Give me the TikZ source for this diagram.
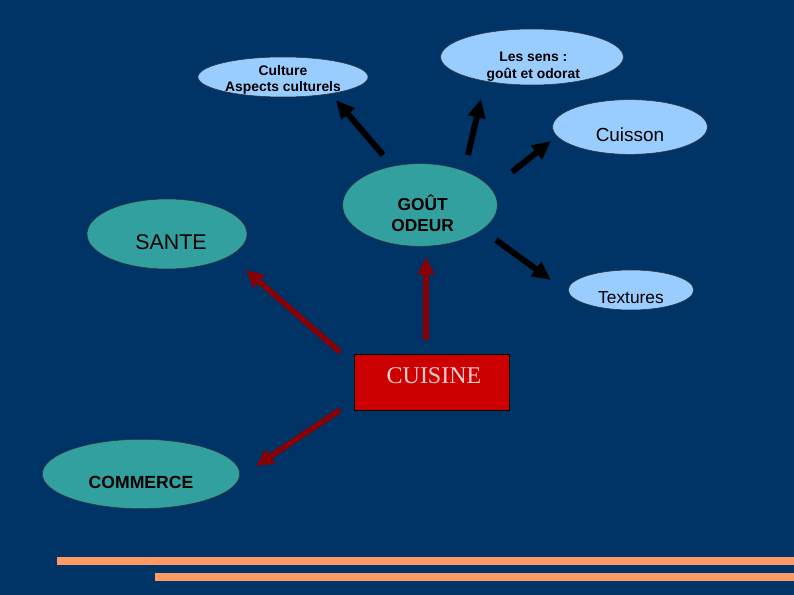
\documentclass[tikz,border=0pt]{standalone}
\usepackage{fontspec}
\setmainfont{Liberation Serif}
\setsansfont{Liberation Sans}
\usetikzlibrary{arrows.meta,shapes.geometric}
\definecolor{navy}{RGB}{0,51,102}
\definecolor{skyblue}{RGB}{153,204,255}
\definecolor{seateal}{RGB}{51,160,160}
\definecolor{boxred}{RGB}{204,0,0}
\definecolor{darkred}{RGB}{135,0,5}
\definecolor{barorange}{RGB}{255,153,102}
\definecolor{pinktext}{RGB}{255,204,204}

\begin{document}
\begin{tikzpicture}[x=0.75pt,y=-0.75pt,font=\sffamily,
  oval/.style={ellipse,draw=black!80,line width=0.4pt,inner sep=0pt},
  sky/.style={oval,fill=skyblue},
  sea/.style={oval,fill=seateal},
  txt/.style={yshift=-6pt,align=center},
  blk/.style={-{Triangle[length=14pt,width=12.5pt]},line width=4.5pt,black},
  rd/.style={-{Triangle[length=13pt,width=12pt]},line width=4.2pt,darkred}]
\fill[navy] (0,0) rectangle (794,595);
\foreach \x/\y in {57/557,155/573}{\fill[barorange] (\x,\y) rectangle (794,\y+8.5);}

\node[sky,minimum width=127.5pt,minimum height=30pt,
  label={[yshift=-2.2pt,align=center,font=\sffamily\bfseries\fontsize{10.4}{12}\selectfont]center:Culture\\Aspects culturels}] (culture) at (283,77) {};
\node[sky,minimum width=137pt,minimum height=42pt,
  label={[txt,yshift=-1.5pt,xshift=1pt,font=\sffamily\bfseries\fontsize{10.4}{12.75}\selectfont]center:Les sens :\\goût et odorat}] (sens) at (532,57) {};
\node[sky,minimum width=116pt,minimum height=41pt,
  label={[txt,font=\sffamily\fontsize{14.2}{16}\selectfont]center:Cuisson}] (cuisson) at (630,127) {};
\node[sky,minimum width=94pt,minimum height=30pt,
  label={[txt,font=\sffamily\fontsize{13}{15}\selectfont]center:Textures}] (textures) at (631,290) {};
\node[sea,minimum width=116pt,minimum height=62pt,
  label={[txt,xshift=2pt,font=\sffamily\bfseries\fontsize{13}{15.75}\selectfont]center:GOÛT\\ODEUR}] (gout) at (420,205) {};
\node[sea,minimum width=120pt,minimum height=52.5pt,
  label={[txt,xshift=3pt,font=\sffamily\fontsize{16}{18}\selectfont]center:SANTE}] (sante) at (167,234) {};
\node[sea,minimum width=148pt,minimum height=52pt,
  label={[txt,font=\sffamily\bfseries\fontsize{13.2}{15}\selectfont]center:COMMERCE}] (commerce) at (141,474) {};
\node[rectangle,draw=black,line width=0.6pt,fill=boxred,minimum width=116pt,minimum height=42pt,inner sep=0pt,
  label={[yshift=4.5pt,xshift=1.5pt,text=pinktext,font=\rmfamily\fontsize{18}{20}\selectfont]center:CUISINE}] (cuisine) at (432,382) {};

\draw[blk] ([shift={(-37,-50)}]gout.center) -- ([shift={(53,23)}]culture.center);
\draw[blk] ([shift={(48,-50)}]gout.center) -- ([shift={(-51,42)}]sens.center);
\draw[blk] ([shift={(92,-33)}]gout.center) -- ([shift={(-79,14)}]cuisson.center);
\draw[blk] ([shift={(76,35)}]gout.center) -- ([shift={(-80,-10)}]textures.center);
\draw[rd] ([shift={(-92,-30)}]cuisine.center) -- ([shift={(79,36)}]sante.center);
\draw[rd] ([shift={(-6,-42)}]cuisine.center) -- ([shift={(6,52)}]gout.center);
\draw[rd] ([shift={(-92,28)}]cuisine.center) -- ([shift={(115,-8)}]commerce.center);
\end{tikzpicture}
\end{document}
